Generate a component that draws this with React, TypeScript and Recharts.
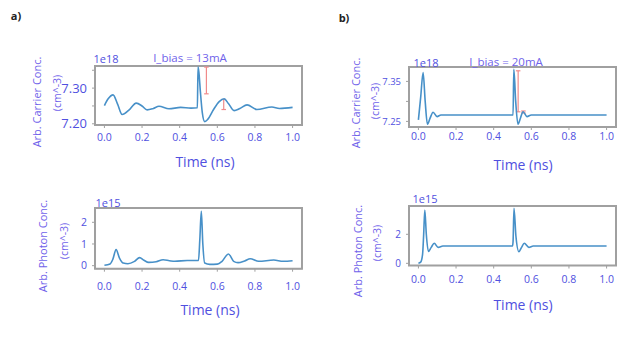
import React from "react";
import {
  LineChart,
  Line,
  XAxis,
  YAxis,
  ReferenceArea,
  ReferenceLine,
} from "recharts";

// ---- data ----
const carrierTimeA = [0, 0.02, 0.046, 0.07, 0.094, 0.13, 0.169, 0.2, 0.227, 0.26, 0.29, 0.343, 0.405, 0.46, 0.494, 0.4975, 0.502, 0.51, 0.52, 0.533, 0.55, 0.58, 0.61, 0.636, 0.66, 0.689, 0.72, 0.758, 0.81, 0.89, 0.93, 1.0];
const carrierA = [7.251, 7.27, 7.281, 7.255, 7.226, 7.238, 7.258, 7.25, 7.239, 7.243, 7.249, 7.242, 7.246, 7.244, 7.245, 7.359, 7.345, 7.29, 7.232, 7.206, 7.213, 7.24, 7.262, 7.27, 7.256, 7.237, 7.243, 7.253, 7.24, 7.247, 7.243, 7.246];

const photonTimeA = [0, 0.03, 0.045, 0.062, 0.08, 0.1, 0.125, 0.16, 0.187, 0.21, 0.235, 0.275, 0.312, 0.345, 0.374, 0.44, 0.5, 0.507, 0.515, 0.523, 0.533, 0.56, 0.6, 0.625, 0.659, 0.687, 0.71, 0.745, 0.775, 0.82, 0.9, 0.95, 1.0];
const photonA = [0.02, 0.08, 0.3, 0.74, 0.35, 0.12, 0.09, 0.2, 0.37, 0.25, 0.15, 0.18, 0.27, 0.23, 0.2, 0.24, 0.24, 1.2, 2.51, 1.0, 0.12, 0.06, 0.07, 0.2, 0.54, 0.2, 0.14, 0.22, 0.32, 0.2, 0.26, 0.2, 0.23];

const carrierTimeB = [0, 0.012, 0.025, 0.036, 0.048, 0.062, 0.078, 0.099, 0.12, 0.2, 0.5, 0.503, 0.507, 0.517, 0.529, 0.542, 0.556, 0.577, 0.6, 0.7, 1.0];
const carrierB = [7.254, 7.31, 7.372, 7.3, 7.243, 7.258, 7.273, 7.262, 7.266, 7.266, 7.266, 7.266, 7.38, 7.3, 7.243, 7.258, 7.274, 7.262, 7.266, 7.266, 7.266];

const photonTimeB = [0, 0.012, 0.022, 0.028, 0.034, 0.042, 0.053, 0.068, 0.084, 0.105, 0.13, 0.3, 0.5, 0.503, 0.508, 0.518, 0.534, 0.548, 0.5625, 0.587, 0.61, 0.8, 1.0];
const photonB = [0.0, 0.08, 0.6, 2.0, 3.67, 2.0, 0.82, 1.1, 1.38, 1.1, 1.19, 1.19, 1.19, 1.5, 3.79, 1.9, 0.8, 1.1, 1.38, 1.1, 1.19, 1.19, 1.19];

// red amplitude markers
const errXA = [0.542, 0.634];
const errLowA = [7.284, 7.24];
const errHighA = [7.359, 7.268];
const errXB = [0.53, 0.558];
const errLowB = [7.274, 7.271];
const errHighB = [7.3765, 7.276];

const xTicks = [0, 0.2, 0.4, 0.6, 0.8, 1.0];

const toRows = (t: number[], v: number[]) => t.map((x, i) => ({ t: x, v: v[i] }));

const LINE = "#4790c8";
const TXT = "#5050e0";
const LBL = "#7062ea";
const FRAME = "#a0a0a0";
const ERR = "#f08a8a";

type PanelProps = {
  boxLeft: number;
  boxTop: number;
  boxW: number;
  boxH: number;
  yDomain: [number, number];
  yTicks: number[];
  yFmt: (v: number) => string;
  yFont: number;
  xMargin: number;
  rows: { t: number; v: number }[];
  errX?: number[];
  errLow?: number[];
  errHigh?: number[];
};

const Panel = (p: PanelProps) => {
  const yw = 50;
  const xh = 30;
  const xDomain: [number, number] = [-0.05, 1.05];
  return (
    <div style={{ position: "absolute", left: p.boxLeft - yw, top: p.boxTop - 2 }}>
      <LineChart
        width={yw + p.boxW + 3}
        height={p.boxH + 2 + xh}
        data={p.rows}
        margin={{ top: 2, right: 3, bottom: 0, left: 0 }}
      >
        <XAxis
          dataKey="t"
          type="number"
          domain={xDomain}
          allowDataOverflow
          ticks={xTicks}
          tickFormatter={(v: number) => v.toFixed(1)}
          height={xh}
          tickSize={3}
          tickMargin={p.xMargin}
          stroke={FRAME}
          tick={{ fill: TXT, fontSize: 10.5 }}
        />
        <YAxis
          type="number"
          domain={p.yDomain}
          allowDataOverflow
          ticks={p.yTicks}
          tickFormatter={p.yFmt}
          width={yw}
          tickSize={3}
          tickMargin={5}
          stroke={FRAME}
          tick={{ fill: TXT, fontSize: p.yFont }}
        />
        <ReferenceArea
          x1={xDomain[0]}
          x2={xDomain[1]}
          y1={p.yDomain[0]}
          y2={p.yDomain[1]}
          fill="none"
          stroke={FRAME}
          strokeWidth={2}
          ifOverflow="visible"
        />
        {(p.errX || []).map((ex, i) => {
          const lo = p.errLow![i];
          const hi = p.errHigh![i];
          const c = 0.012;
          return (
            <React.Fragment key={i}>
              <ReferenceLine segment={[{ x: ex, y: lo }, { x: ex, y: hi }]} stroke={ERR} strokeWidth={1.2} ifOverflow="visible" />
              <ReferenceLine segment={[{ x: ex - c, y: lo }, { x: ex + c, y: lo }]} stroke={ERR} strokeWidth={1.2} ifOverflow="visible" />
              <ReferenceLine segment={[{ x: ex - c, y: hi }, { x: ex + c, y: hi }]} stroke={ERR} strokeWidth={1.2} ifOverflow="visible" />
            </React.Fragment>
          );
        })}
        <Line
          type="monotone"
          dataKey="v"
          stroke={LINE}
          strokeWidth={1.6}
          dot={false}
          isAnimationActive={false}
        />
      </LineChart>
    </div>
  );
};

const Txt = ({
  x,
  y,
  size,
  color = TXT,
  rotate = false,
  bold = false,
  children,
}: {
  x: number;
  y: number;
  size: number;
  color?: string;
  rotate?: boolean;
  bold?: boolean;
  children: React.ReactNode;
}) => (
  <div
    style={{
      position: "absolute",
      left: x,
      top: y,
      transform: `translate(-50%, -50%)${rotate ? " rotate(-90deg)" : ""}`,
      fontSize: size,
      color,
      whiteSpace: "nowrap",
      lineHeight: 1,
      fontWeight: bold ? 700 : 400,
    }}
  >
    {children}
  </div>
);

const fmtEvery = (step: number, digits: number) => (v: number) =>
  Math.abs(v / step - Math.round(v / step)) < 1e-6 ? v.toFixed(digits) : "";

export default function App() {
  return (
    <div
      style={{
        position: "absolute",
        left: 0,
        top: 0,
        width: 643,
        height: 337,
        background: "#fff",
        fontFamily: "'Open Sans', sans-serif",
        overflow: "hidden",
      }}
    >
      <Txt x={16} y={15} size={11} color="#222" bold>a)</Txt>
      <Txt x={344} y={17} size={11} color="#222" bold>b)</Txt>

      {/* a) carrier */}
      <Panel
        boxLeft={95}
        boxTop={65.5}
        boxW={207}
        boxH={59}
        yDomain={[7.1966, 7.362]}
        yTicks={[7.2, 7.25, 7.3, 7.35]}
        yFmt={fmtEvery(0.1, 2)}
        yFont={13}
        xMargin={6}
        rows={toRows(carrierTimeA, carrierA)}
        errX={errXA}
        errLow={errLowA}
        errHigh={errHighA}
      />
      <Txt x={106} y={58} size={11}>1e18</Txt>
      <Txt x={190} y={58} size={11.5} color={LBL}>I_bias = 13mA</Txt>
      <Txt x={36} y={102} size={11} color={LBL} rotate>Arb. Carrier Conc.</Txt>
      <Txt x={57} y={93} size={10.5} color={LBL} rotate>(cm^-3)</Txt>
      <Txt x={205} y={162} size={14}>Time (ns)</Txt>

      {/* a) photon */}
      <Panel
        boxLeft={95}
        boxTop={208.3}
        boxW={207}
        boxH={60.7}
        yDomain={[-0.14, 2.66]}
        yTicks={[0, 1, 2]}
        yFmt={(v: number) => String(v)}
        yFont={10.5}
        xMargin={11}
        rows={toRows(photonTimeA, photonA)}
      />
      <Txt x={108} y={202} size={11}>1e15</Txt>
      <Txt x={42} y={246} size={11} color={LBL} rotate>Arb. Photon Conc.</Txt>
      <Txt x={64} y={241} size={10.5} color={LBL} rotate>(cm^-3)</Txt>
      <Txt x={210} y={310} size={14}>Time (ns)</Txt>

      {/* b) carrier */}
      <Panel
        boxLeft={409}
        boxTop={67}
        boxW={207}
        boxH={60}
        yDomain={[7.236, 7.386]}
        yTicks={[7.25, 7.3, 7.35]}
        yFmt={(v: number) => (Math.abs(v - 7.3) < 1e-6 ? "" : v.toFixed(2))}
        yFont={9.5}
        xMargin={3}
        rows={toRows(carrierTimeB, carrierB)}
        errX={errXB}
        errLow={errLowB}
        errHigh={errHighB}
      />
      <Txt x={426} y={62} size={11}>1e18</Txt>
      <Txt x={506} y={62} size={11.5} color={LBL}>I_bias = 20mA</Txt>
      <Txt x={355} y={103} size={11} color={LBL} rotate>Arb. Carrier Conc.</Txt>
      <Txt x={375} y={101} size={10.5} color={LBL} rotate>(cm^-3)</Txt>
      <Txt x={523} y={165} size={14}>Time (ns)</Txt>

      {/* b) photon */}
      <Panel
        boxLeft={409}
        boxTop={206}
        boxW={207}
        boxH={59.5}
        yDomain={[-0.15, 3.95]}
        yTicks={[0, 2]}
        yFmt={(v: number) => String(v)}
        yFont={10}
        xMargin={7.5}
        rows={toRows(photonTimeB, photonB)}
      />
      <Txt x={425} y={198} size={11}>1e15</Txt>
      <Txt x={357} y={251} size={11} color={LBL} rotate>Arb. Photon Conc.</Txt>
      <Txt x={377} y={243} size={10.5} color={LBL} rotate>(cm^-3)</Txt>
      <Txt x={523} y={305} size={14}>Time (ns)</Txt>
    </div>
  );
}
